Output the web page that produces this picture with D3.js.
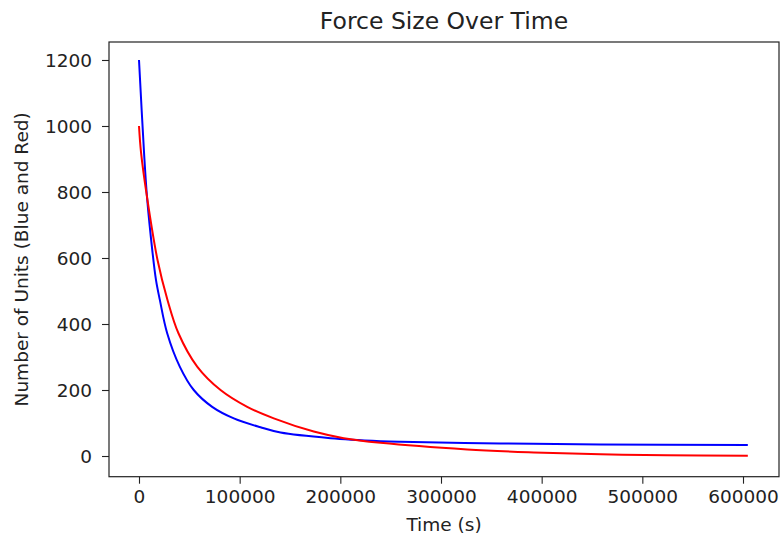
<!DOCTYPE html>
<html>
<head>
<meta charset="utf-8">
<script src="https://cdn.jsdelivr.net/npm/d3@7"></script>
<style>
  body { margin: 0; background: #fff; }
  svg text { font-family: "DejaVu Sans", sans-serif; fill: #222; }
</style>
</head>
<body>
<svg id="forceChart" width="781" height="540"></svg>
<script>
// time in seconds, units remaining
var blueTime = [0, 4970, 7950, 13400, 16900, 20700, 28000, 40500, 54400, 72700, 94200, 120700, 140600, 190200, 239900, 259800, 359100, 458400, 604800];
var blueUnits = [1200, 921, 785, 618, 533, 473, 372, 271, 200, 149, 114, 87, 71, 54, 45, 43, 38, 35, 33];

var redTime = [0, 1990, 7950, 18400, 28300, 39200, 57800, 81000, 107500, 133900, 173600, 203400, 239900, 326000, 392200, 458400, 524700, 604800];
var redUnits = [1000, 921, 785, 594, 473, 372, 271, 200, 149, 114, 74, 54, 40, 20, 11, 5, 2, 1];

var xTicks = [0, 100000, 200000, 300000, 400000, 500000, 600000];
var yTicks = [0, 200, 400, 600, 800, 1000, 1200];

var svg = d3.select("svg#forceChart"),
    margin = {top: 42, right: 2, bottom: 63.3, left: 109},
    width = +svg.attr("width") - margin.left - margin.right,
    height = +svg.attr("height") - margin.top - margin.bottom,
    g = svg.append("g").attr("transform", "translate(" + margin.left + "," + margin.top + ")");

var x = d3.scaleLinear()
    .domain([-29800, 635760])
    .range([0, width]);

var y = d3.scaleLinear()
    .domain([-62.7, 1254.5])
    .range([height, 0]);

var line = d3.line()
    .x(function(d) { return x(d[0]); })
    .y(function(d) { return y(d[1]); })
    .curve(d3.curveCatmullRom.alpha(0.5));

var series = [
  {name: "Blue", color: "#0000ff", pts: d3.zip(blueTime, blueUnits)},
  {name: "Red", color: "#ff0000", pts: d3.zip(redTime, redUnits)}
];

g.selectAll(".serie")
  .data(series)
  .enter().append("path")
    .attr("class", "serie")
    .attr("fill", "none")
    .attr("stroke", function(d) { return d.color; })
    .attr("stroke-width", 2)
    .attr("d", function(d) { return line(d.pts); });

// axes
var xAxis = g.append("g")
    .attr("transform", "translate(0," + height + ")")
    .call(d3.axisBottom(x).tickValues(xTicks).tickFormat(d3.format("d")).tickSizeInner(7).tickSizeOuter(0).tickPadding(5));

var yAxis = g.append("g")
    .call(d3.axisLeft(y).tickValues(yTicks).tickFormat(d3.format("d")).tickSizeInner(7).tickSizeOuter(0).tickPadding(10));

[xAxis, yAxis].forEach(function(a) {
  a.select(".domain").remove();
  a.selectAll(".tick line").attr("stroke", "#222").attr("stroke-width", 1.1);
  a.selectAll(".tick text").style("font-size", "18.5px").attr("fill", "#222");
});
yAxis.selectAll(".tick text").attr("dy", "0.34em");
xAxis.selectAll(".tick text").attr("dy", "0.76em");

// frame
g.append("rect")
    .attr("width", width)
    .attr("height", height)
    .attr("fill", "none")
    .attr("stroke", "#222")
    .attr("stroke-width", 1.2);

svg.append("text")
    .attr("x", margin.left + width / 2)
    .attr("y", 29)
    .attr("text-anchor", "middle")
    .style("font-size", "23.5px")
    .text("Force Size Over Time");

svg.append("text")
    .attr("x", margin.left + width / 2)
    .attr("y", 531)
    .attr("text-anchor", "middle")
    .style("font-size", "18.5px")
    .text("Time (s)");

svg.append("text")
    .attr("transform", "translate(27.5," + (margin.top + height / 2) + ") rotate(-90)")
    .attr("text-anchor", "middle")
    .style("font-size", "18.5px")
    .text("Number of Units (Blue and Red)");
</script>
</body>
</html>
